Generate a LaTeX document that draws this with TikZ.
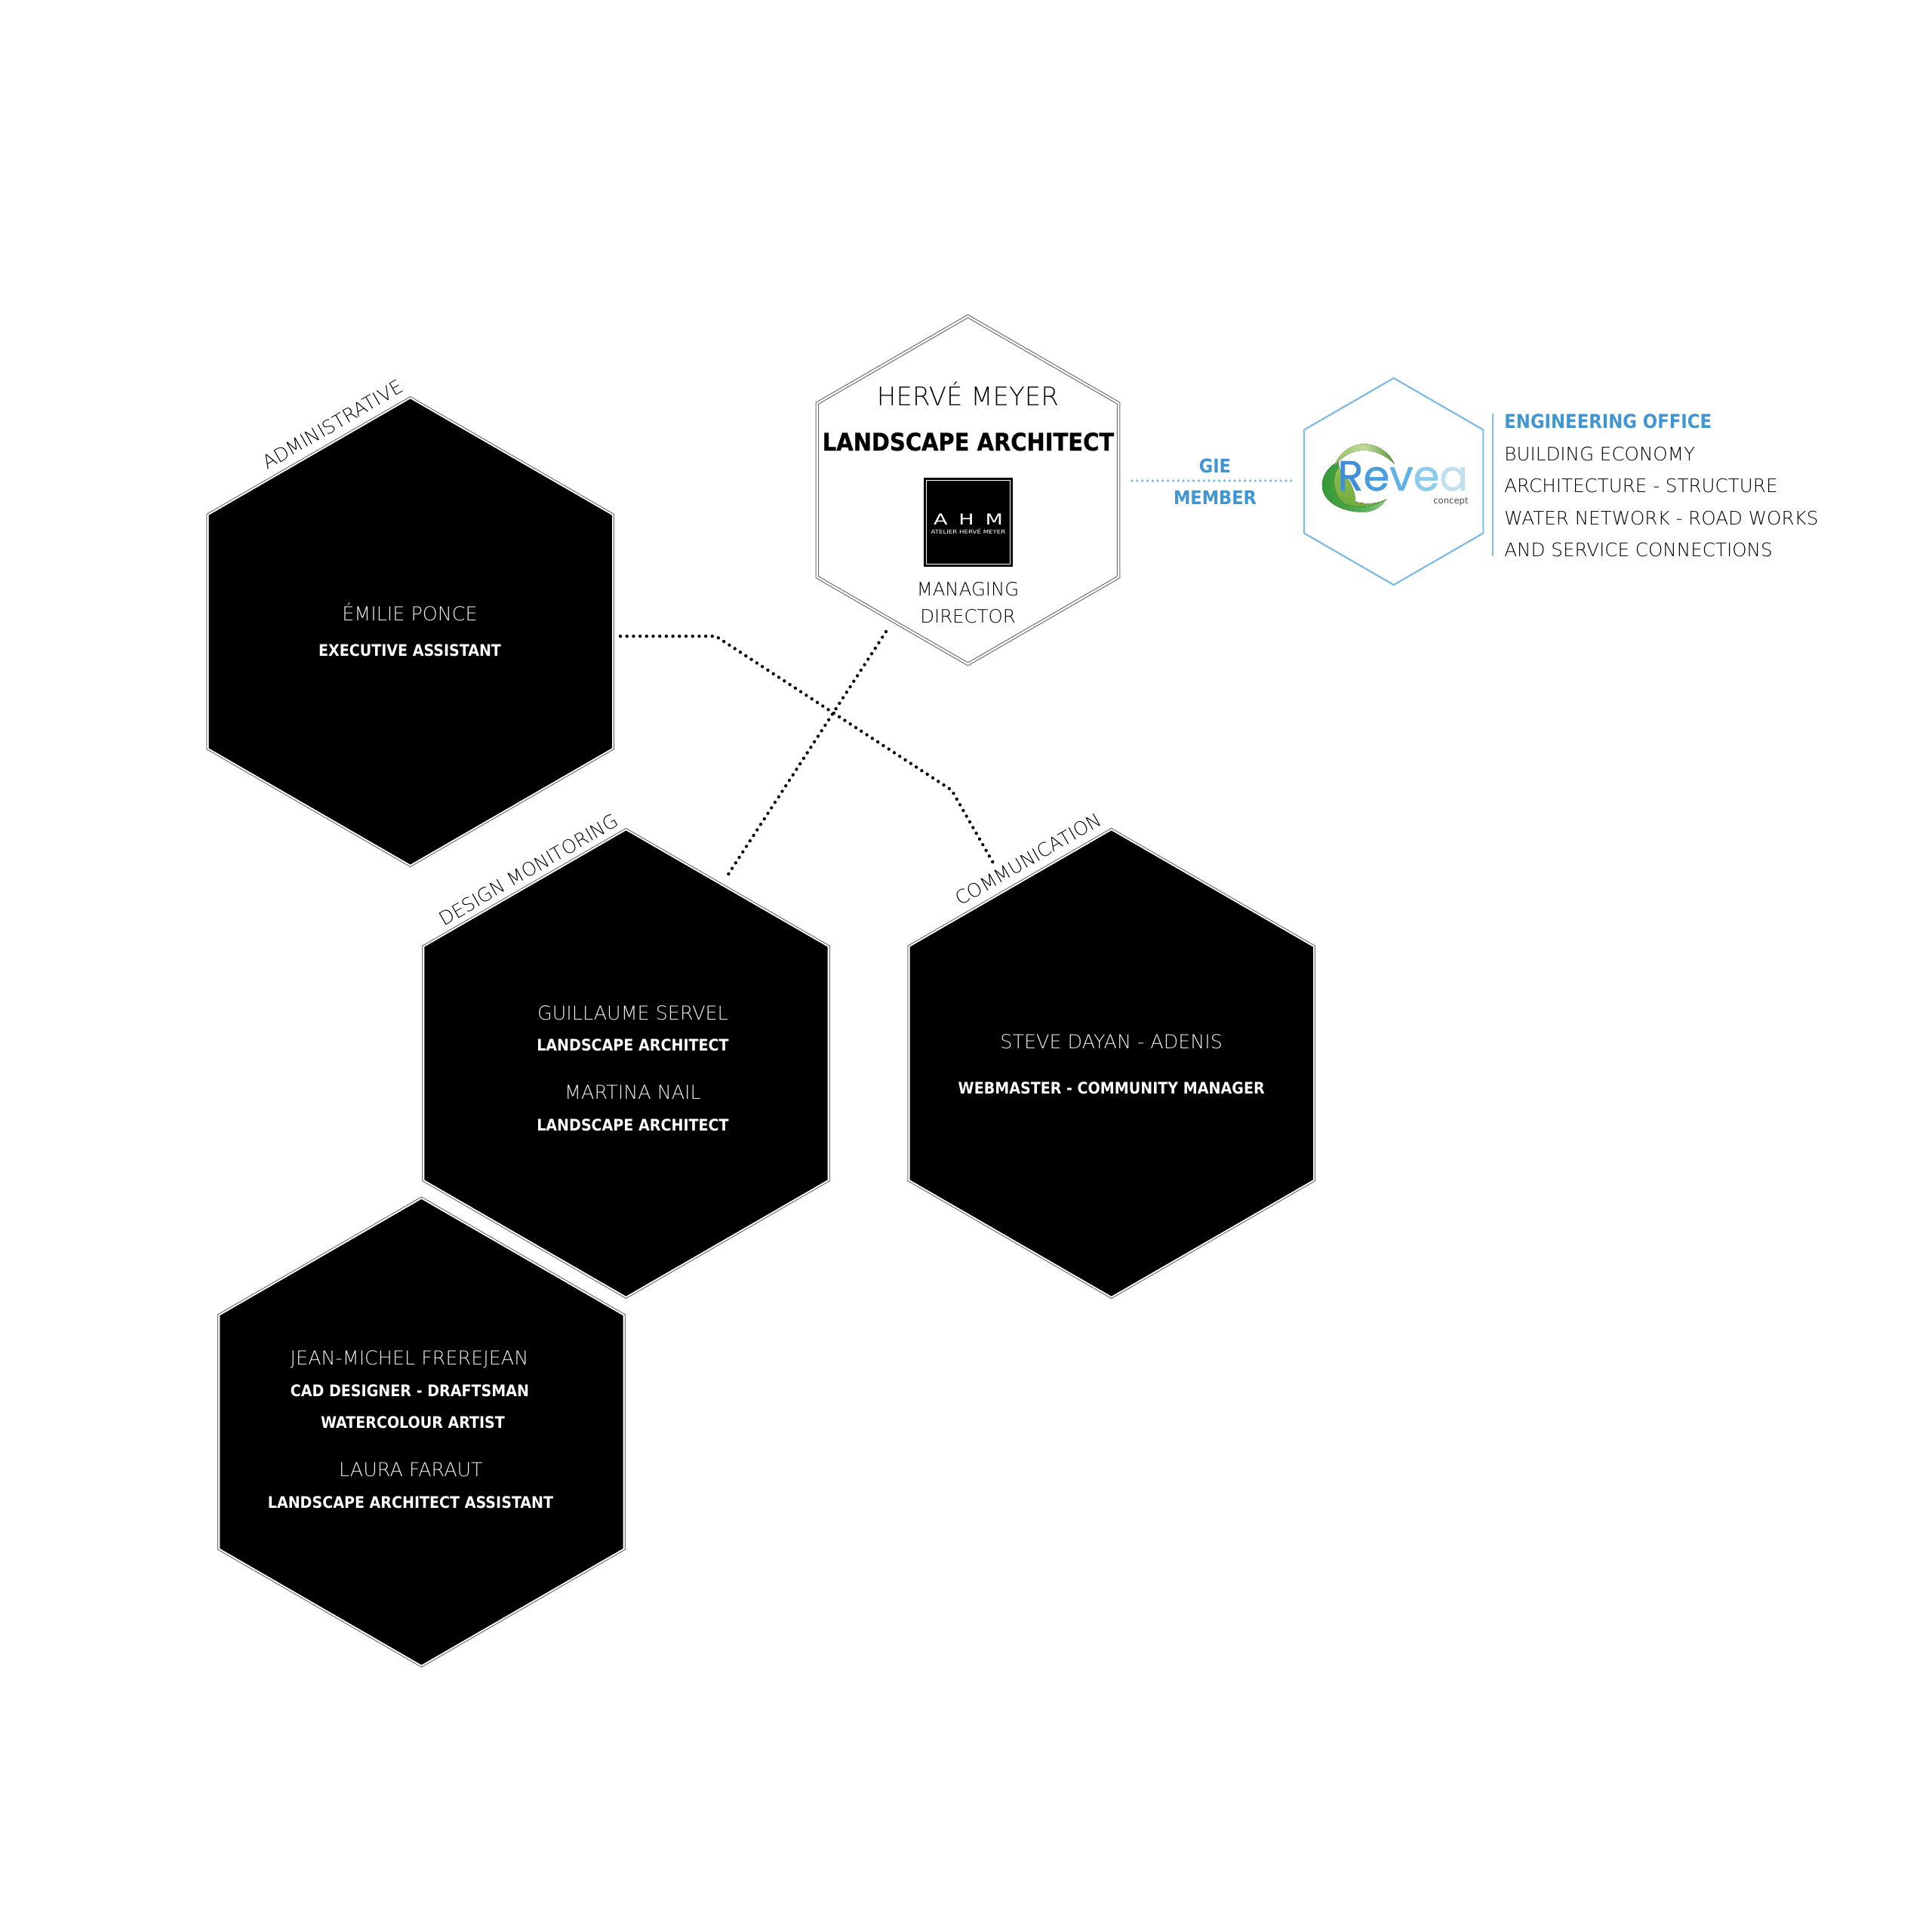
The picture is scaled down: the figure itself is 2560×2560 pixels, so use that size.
\documentclass[tikz,border=0pt]{standalone}
\usepackage{fontspec}
\usetikzlibrary{shapes.geometric}
\setmainfont{DejaVu Sans}
\newfontfamily\lightf{DejaVu Sans ExtraLight}
\newfontfamily\boldf{DejaVu Sans Condensed Bold}
\newfontfamily\heavyf[FakeBold=0.6]{DejaVu Sans Condensed Bold}
\newfontfamily\popf[FakeBold=0.8]{Poppins}
\definecolor{hexgray}{HTML}{6E6E6E}
\definecolor{nameg}{HTML}{F0F0F0}
\definecolor{skyline}{HTML}{7FBBE3}
\definecolor{bluetext}{HTML}{4096D3}
\definecolor{bodytxt}{HTML}{000000}
\tikzset{
  hexa/.style={regular polygon,regular polygon sides=6,shape border rotate=30,inner sep=0pt,outer sep=0pt},
  blackouter/.style={hexa,draw=hexgray,line width=.5pt,fill=white,minimum size=311.5pt},
  blackinner/.style={hexa,fill=black,minimum size=308.5pt},
  nm/.style={anchor=base,inner sep=0pt,text=nameg,font=\lightf\fontsize{12.7}{16}\selectfont},
  role/.style={anchor=base,inner sep=0pt,text=white,font=\boldf\fontsize{10.6}{14}\selectfont},
  tag/.style={anchor=base west,inner sep=0pt,rotate=30,text=bodytxt,font=\lightf\fontsize{12.5}{15}\selectfont},
  dotsblk/.style={line width=2.2pt,line cap=round,dash pattern=on 0pt off 4.35pt,black},
  dotsblu/.style={line width=1.9pt,line cap=round,dash pattern=on 0pt off 3.4pt,skyline},
  eng/.style={anchor=base west,inner sep=0pt,text=bodytxt,font=\lightf\fontsize{12.3}{16}\selectfont},
  blu/.style={anchor=base,inner sep=0pt,text=bluetext,font=\boldf\fontsize{12.5}{15}\selectfont},
}
\begin{document}
\begin{tikzpicture}[x=0.5pt,y=-0.5pt]
\useasboundingbox[fill=white] (0,0) rectangle (2560,2560);
% head
\node[hexa,draw=hexgray,line width=.5pt,minimum size=232.5pt] (head) at (1282.5,649.5) {};
\node[hexa,draw=hexgray,line width=.5pt,minimum size=228.5pt] (headin) at (1282.5,649.5) {};
\node[anchor=base,inner sep=0pt,text=bodytxt,font=\lightf\fontsize{17}{20}\selectfont] (hn) at (1282.5,537) {HERVÉ MEYER};
\node[anchor=base,inner sep=0pt,text=black,font=\heavyf\fontsize{16.1}{20}\selectfont] (ht) at (1283,597) {LANDSCAPE ARCHITECT};
\node[anchor=base,inner sep=0pt,text=bodytxt,font=\lightf\fontsize{12.2}{15}\selectfont] (hm) at (1282.5,789) {MANAGING};
\node[anchor=base,inner sep=0pt,text=bodytxt,font=\lightf\fontsize{12.2}{15}\selectfont] (hd) at (1282.5,825) {DIRECTOR};
% AHM logo
\node[fill=black,minimum size=58.8pt,inner sep=0pt] (logo) at (1283,692) {};
\node[draw=white,line width=.5pt,minimum size=55.5pt,inner sep=0pt] (logoframe) at (1283,692) {};
\node[anchor=base,inner sep=0pt,text=white,font=\fontsize{10}{12}\selectfont] (ahm) at (1283,695.5) {\scalebox{1.35}[1]{A\hspace{5.5pt}H\hspace{5.5pt}M}};
\node[anchor=base,inner sep=0pt,text=white,font=\fontsize{3.6}{5}\selectfont] (atl) at (1283,707) {\scalebox{1.2}[1]{ATELIER HERVÉ MEYER}};
% Revea
\node[hexa,draw=skyline,line width=1.1pt,minimum size=137pt] (revea) at (1846.7,638) {};
\begin{scope}[shift={(1730,570)},xscale=0.339,yscale=0.333]
  \fill[left color=black!0!green!50!black!80!white,right color=green!60!black!50!white,middle color=green!50!black!70!white] (128,125) .. controls (85,145) and (60,190) .. (65,228) .. controls (72,290) and (150,332) .. (240,325) .. controls (275,320) and (300,300) .. (315,275) .. controls (285,292) and (240,298) .. (195,285) .. controls (165,250) and (135,190) .. (128,125) -- cycle;
  \fill[top color={rgb,255:red,142;green,190;blue,80},bottom color={rgb,255:red,112;green,170;blue,62}] (128,150) .. controls (100,190) and (110,260) .. (150,290) .. controls (190,310) and (250,315) .. (315,275) .. controls (285,292) and (240,298) .. (195,285) .. controls (195,240) and (165,180) .. (128,150) -- cycle;
  \fill[left color={rgb,255:red,150;green,195;blue,100},right color={rgb,255:red,95;green,150;blue,60},middle color={rgb,255:red,190;green,220;blue,150}] (112,145) .. controls (128,90) and (180,55) .. (230,55) .. controls (280,55) and (330,90) .. (347,135) .. controls (315,100) and (270,80) .. (225,80) .. controls (180,82) and (140,105) .. (112,145) -- cycle;
\end{scope}
\node[anchor=base west,inner sep=0pt,font=\popf\fontsize{28}{30}\selectfont] (rv) at (1772,650) {\textcolor[HTML]{3E8FD8}{R}\textcolor[HTML]{4A9EDD}{e}\textcolor[HTML]{5FB2E6}{v}\textcolor[HTML]{8ACBEE}{e}\textcolor[HTML]{C0E0EE}{a}};
\node[anchor=base east,inner sep=0pt,text=bodytxt!70,font=\fontsize{5.8}{8}\selectfont] (cc) at (1946,667) {concept};
% right block
\coordinate (barT) at (1977.6,548);
\coordinate (barB) at (1977.6,737);
\draw[skyline,line width=1pt] (barT) -- (barB);
\node[anchor=base west,inner sep=0pt,text=bluetext,font=\boldf\fontsize{12.65}{16}\selectfont] (e0) at (1993,567) {ENGINEERING OFFICE};
\node[eng] (e1) at (1993,610) {BUILDING ECONOMY};
\node[eng] (e2) at (1993,652) {ARCHITECTURE - STRUCTURE};
\node[eng] (e3) at (1993,695) {WATER NETWORK - ROAD WORKS};
\node[eng] (e4) at (1993,737) {AND SERVICE CONNECTIONS};
% GIE
\coordinate (gieL) at (1500,637);
\coordinate (gieR) at (1716,637);
\draw[dotsblu] (gieL) -- (gieR);
\node[blu] (gie) at (1610,626) {GIE};
\node[blu] (mem) at (1610,668) {MEMBER};
% black hexes
\node[blackouter] (h1o) at (543.7,837) {};
\node[blackinner] (h1) at (543.7,837) {};
\node[blackouter] (h2o) at (829.5,1409) {};
\node[blackinner] (h2) at (829.5,1409) {};
\node[blackouter] (h3o) at (1472.7,1409) {};
\node[blackinner] (h3) at (1472.7,1409) {};
\node[blackouter] (h4o) at (558.5,1897.5) {};
\node[blackinner] (h4) at (558.5,1897.5) {};
% tags
\node[tag] (t1) at (354,623) {ADMINISTRATIVE};
\node[tag] (t2) at (588,1228) {DESIGN MONITORING};
\node[tag] (t3) at (1272.5,1201) {COMMUNICATION};
% texts
\node[nm] (a1) at (543,822.5) {ÉMILIE PONCE};
\node[role] (a2) at (543,869) {EXECUTIVE ASSISTANT};
\node[nm] (b1) at (838.5,1351) {GUILLAUME SERVEL};
\node[role] (b2) at (838.5,1392) {LANDSCAPE ARCHITECT};
\node[nm] (b3) at (838.5,1456) {MARTINA NAIL};
\node[role] (b4) at (838.5,1498) {LANDSCAPE ARCHITECT};
\node[nm] (c1) at (1472.7,1389) {STEVE DAYAN - ADENIS};
\node[role] (c2) at (1472.7,1449) {WEBMASTER - COMMUNITY MANAGER};
\node[nm] (d1) at (542.5,1808) {JEAN-MICHEL FREREJEAN};
\node[role] (d2) at (543,1850.7) {CAD DESIGNER - DRAFTSMAN};
\node[role] (d3) at (547,1892) {WATERCOLOUR ARTIST};
\node[nm] (d4) at (544.5,1956) {LAURA FARAUT};
\node[role] (d5) at (544,1998) {LANDSCAPE ARCHITECT ASSISTANT};
% connectors
\coordinate (adminEnd) at (822,843);
\coordinate (bendA) at (948.5,843);
\coordinate (bendB) at (1261,1047);
\coordinate (commEnd) at (1317,1145);
\coordinate (headEnd) at (1174,837);
\coordinate (designEnd) at (964,1160);
\draw[dotsblk] (adminEnd) -- (bendA) -- (bendB) -- (commEnd);
\draw[dotsblk] (headEnd) -- (designEnd);
\end{tikzpicture}
\end{document}
